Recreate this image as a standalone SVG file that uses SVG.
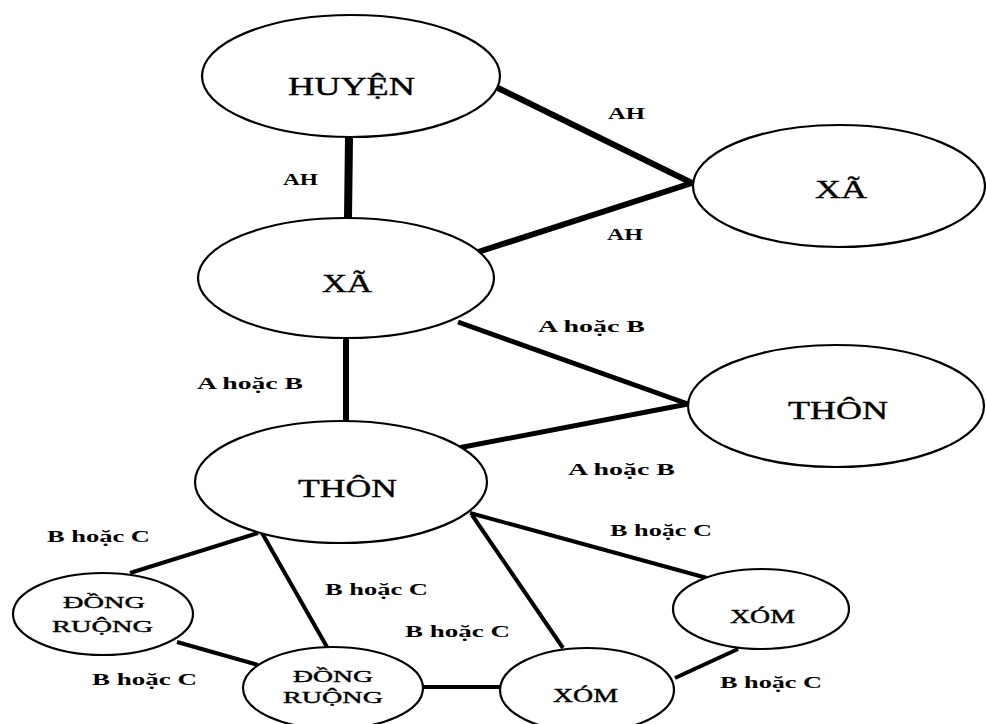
<svg xmlns="http://www.w3.org/2000/svg" width="986" height="724" viewBox="0 0 986 724">
<style>
  .node ellipse { fill: #ffffff; stroke: #000000; stroke-width: 2.2; }
  .ntext { font-family: "Liberation Serif", "Times New Roman", serif; fill: #000; stroke: #000; stroke-width: 0.4; }
  .big { font-size: 25px; }
  .small { font-size: 17px; }
  .mid { font-size: 19px; }
  .elabel { font-family: "Liberation Serif", "Times New Roman", serif; font-weight: bold; font-size: 17px; fill: #000; }
  .conn line { stroke: #000; stroke-linecap: butt; }
  .w8 { stroke-width: 8; }
  .w6 { stroke-width: 6; }
  .w5 { stroke-width: 5; }
  .w4 { stroke-width: 4; }
</style>
<rect width="986" height="724" fill="#ffffff"/>
<g id="connectors" class="conn">
  <line class="w8" x1="349" y1="137" x2="348" y2="218"/>
  <line class="w6" x1="498" y1="88" x2="692" y2="183"/>
  <line class="w6" x1="478" y1="252" x2="692" y2="183"/>
  <line class="w6" x1="346" y1="338" x2="346" y2="422"/>
  <line class="w5" x1="458" y1="322" x2="688" y2="404"/>
  <line class="w5" x1="688" y1="404" x2="458" y2="448"/>
  <line class="w4" x1="130" y1="573" x2="258" y2="533"/>
  <line class="w4" x1="262" y1="533" x2="327" y2="647"/>
  <line class="w4" x1="177" y1="642" x2="258" y2="665"/>
  <line class="w4" x1="423" y1="687" x2="500" y2="687"/>
  <line class="w4" x1="470" y1="513" x2="707" y2="578"/>
  <line class="w4" x1="472" y1="515" x2="563" y2="648"/>
  <line class="w4" x1="675" y1="678" x2="738" y2="649"/>
</g>
<g id="edge-labels">
  <text class="elabel" x="283" y="185" textLength="35" lengthAdjust="spacingAndGlyphs">AH</text>
  <text class="elabel" x="608" y="119" textLength="37" lengthAdjust="spacingAndGlyphs">AH</text>
  <text class="elabel" x="607" y="240" textLength="36" lengthAdjust="spacingAndGlyphs">AH</text>
  <text class="elabel" x="197" y="389" textLength="106" lengthAdjust="spacingAndGlyphs">A hoặc B</text>
  <text class="elabel" x="538" y="332" textLength="107" lengthAdjust="spacingAndGlyphs">A hoặc B</text>
  <text class="elabel" x="568" y="475" textLength="107" lengthAdjust="spacingAndGlyphs">A hoặc B</text>
  <text class="elabel" x="47" y="542" textLength="103" lengthAdjust="spacingAndGlyphs">B hoặc C</text>
  <text class="elabel" x="325" y="595" textLength="103" lengthAdjust="spacingAndGlyphs">B hoặc C</text>
  <text class="elabel" x="405" y="637" textLength="105" lengthAdjust="spacingAndGlyphs">B hoặc C</text>
  <text class="elabel" x="92" y="685" textLength="105" lengthAdjust="spacingAndGlyphs">B hoặc C</text>
  <text class="elabel" x="610" y="536" textLength="102" lengthAdjust="spacingAndGlyphs">B hoặc C</text>
  <text class="elabel" x="720" y="688" textLength="102" lengthAdjust="spacingAndGlyphs">B hoặc C</text>
</g>
<g id="huyen" class="node">
  <ellipse cx="351" cy="76" rx="149" ry="61"/>
  <text class="ntext big" x="288" y="95" textLength="127" lengthAdjust="spacingAndGlyphs">HUYỆN</text>
</g>
<g id="xa-right" class="node">
  <ellipse cx="839" cy="186" rx="146" ry="61"/>
  <text class="ntext big" x="815" y="198" textLength="52" lengthAdjust="spacingAndGlyphs">XÃ</text>
</g>
<g id="xa" class="node">
  <ellipse cx="346" cy="278" rx="148" ry="60"/>
  <text class="ntext big" x="322" y="292" textLength="50" lengthAdjust="spacingAndGlyphs">XÃ</text>
</g>
<g id="thon-right" class="node">
  <ellipse cx="836" cy="406" rx="148" ry="61"/>
  <text class="ntext big" x="788" y="419" textLength="100" lengthAdjust="spacingAndGlyphs">THÔN</text>
</g>
<g id="thon" class="node">
  <ellipse cx="341" cy="482" rx="146" ry="61"/>
  <text class="ntext big" x="298" y="497" textLength="99" lengthAdjust="spacingAndGlyphs">THÔN</text>
</g>
<g id="dong-ruong-left" class="node">
  <ellipse cx="103" cy="614" rx="90" ry="41"/>
  <text class="ntext small" x="63" y="608" textLength="82" lengthAdjust="spacingAndGlyphs">ĐỒNG</text>
  <text class="ntext small" x="52" y="632" textLength="101" lengthAdjust="spacingAndGlyphs">RUỘNG</text>
</g>
<g id="dong-ruong-mid" class="node">
  <ellipse cx="333" cy="688" rx="90" ry="41"/>
  <text class="ntext small" x="293" y="682" textLength="80" lengthAdjust="spacingAndGlyphs">ĐỒNG</text>
  <text class="ntext small" x="283" y="703" textLength="100" lengthAdjust="spacingAndGlyphs">RUỘNG</text>
</g>
<g id="xom-right" class="node">
  <ellipse cx="761" cy="609" rx="88" ry="40"/>
  <text class="ntext mid" x="730" y="623" textLength="65" lengthAdjust="spacingAndGlyphs">XÓM</text>
</g>
<g id="xom-bottom" class="node">
  <ellipse cx="587" cy="690" rx="87" ry="42"/>
  <text class="ntext mid" x="553" y="702" textLength="65" lengthAdjust="spacingAndGlyphs">XÓM</text>
</g>
</svg>
